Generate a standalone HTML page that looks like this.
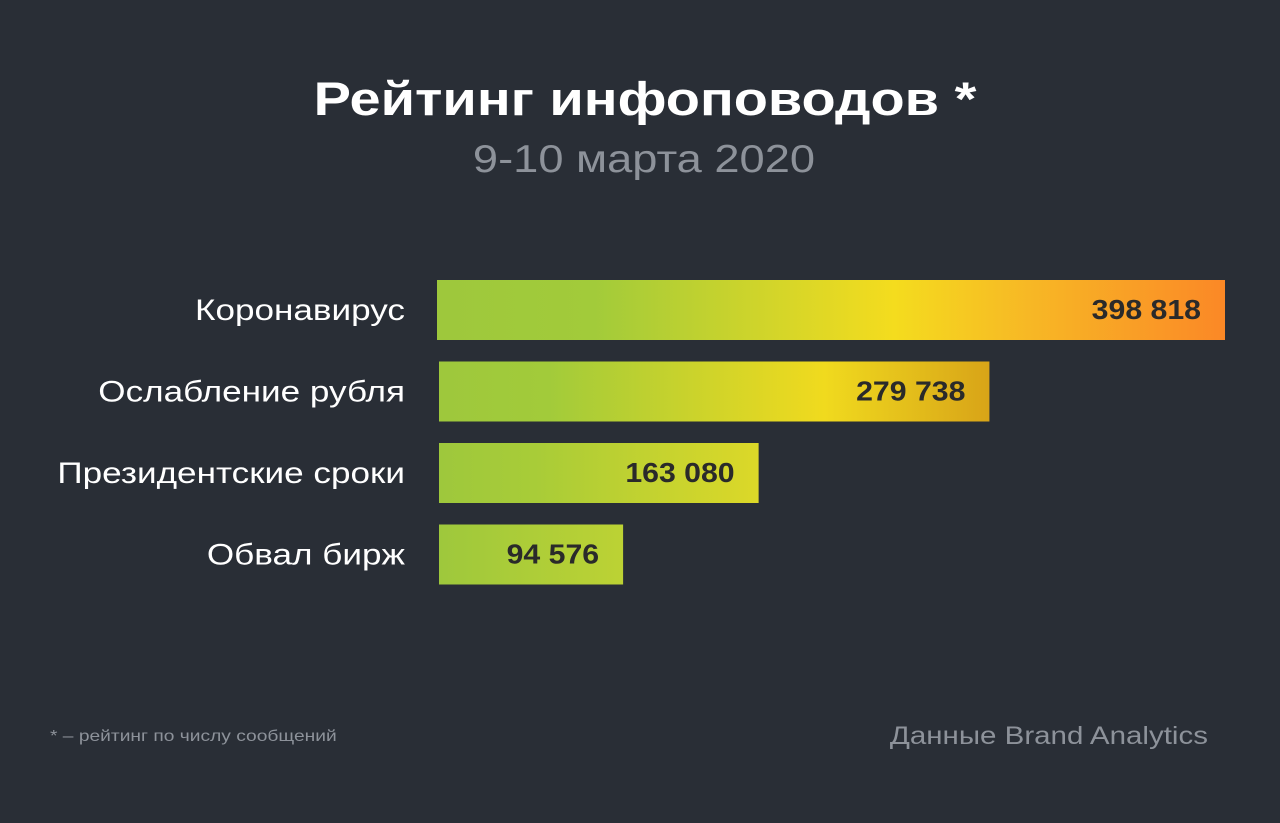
<!DOCTYPE html>
<html><head><meta charset="utf-8"><style>
html,body{margin:0;padding:0;background:#292e36;}
svg{display:block;font-family:"Liberation Sans","DejaVu Sans",sans-serif;}
</style></head><body>
<svg id="chart" width="1280" height="823" viewBox="0 0 1280 823" xmlns="http://www.w3.org/2000/svg">
<defs>
<linearGradient id="grad0" x1="0" y1="0" x2="1" y2="0">
<stop offset="0" stop-color="#9ec83c"/>
<stop offset="0.2" stop-color="#a2cb3a"/>
<stop offset="0.58" stop-color="#f4dc1e"/>
<stop offset="0.75" stop-color="#f7b825"/>
<stop offset="1" stop-color="#fb8826"/>
</linearGradient>
<linearGradient id="grad1" x1="0" y1="0" x2="1" y2="0">
<stop offset="0" stop-color="#9ec83c"/>
<stop offset="0.2" stop-color="#a2cb3a"/>
<stop offset="0.7" stop-color="#f0da1e"/>
<stop offset="1" stop-color="#d8a418"/>
</linearGradient>
<linearGradient id="grad2" x1="0" y1="0" x2="1" y2="0">
<stop offset="0" stop-color="#9ec83c"/>
<stop offset="0.3" stop-color="#a8cc38"/>
<stop offset="1" stop-color="#dcd828"/>
</linearGradient>
<linearGradient id="grad3" x1="0" y1="0" x2="1" y2="0">
<stop offset="0" stop-color="#9ec83c"/>
<stop offset="1" stop-color="#bcd234"/>
</linearGradient>
</defs>
<rect width="1280" height="823" fill="#292e36"/>
<text class="st" data-k="1.19" x="645" y="115" text-anchor="middle" fill="#ffffff" font-size="47" font-weight="bold">Рейтинг инфоповодов *</text>
<text class="st" data-k="1.16" x="644" y="172" text-anchor="middle" fill="#8d929a" font-size="39">9-10 марта 2020</text>
<g id="bars"></g>
<text class="st" data-k="1.2" x="50" y="741" fill="#8d929a" font-size="16">* – рейтинг по числу сообщений</text>
<text class="st" data-k="1.18" x="1208" y="744" text-anchor="end" fill="#8d929a" font-size="25">Данные Brand Analytics</text>
</svg>
<script>
const categories = ["Коронавирус","Ослабление рубля","Президентские сроки","Обвал бирж"];
const values = [398818, 279738, 163080, 94576];
const valueLabels = ["398 818","279 738","163 080","94 576"];
const NS = "http://www.w3.org/2000/svg";
const x0 = 436, maxW = 1225 - 436, maxV = 398818;
function xScale(v){ return x0 + v / maxV * maxW; }
function yScale(i){ return 280 + i * 81.5; }
const g = document.getElementById('bars');
categories.forEach((c, i) => {
  const y = yScale(i), xe = xScale(values[i]), xs = i === 0 ? 437 : 439;
  const r = document.createElementNS(NS, 'rect');
  r.setAttribute('x', xs); r.setAttribute('y', y);
  r.setAttribute('width', xe - xs); r.setAttribute('height', 60);
  r.setAttribute('fill', 'url(#grad' + i + ')');
  
  
  g.appendChild(r);
  const l = document.createElementNS(NS, 'text');
  l.setAttribute('x', 405); l.setAttribute('y', y + 40);
  l.setAttribute('text-anchor', 'end'); l.setAttribute('fill', '#ffffff');
  l.setAttribute('font-size', '30');
  l.setAttribute('class', 'st');
  l.setAttribute('data-k', '1.17');
  l.textContent = c;
  
  
  g.appendChild(l);
  const v = document.createElementNS(NS, 'text');
  v.setAttribute('x', xe - 24); v.setAttribute('y', y + 39);
  v.setAttribute('text-anchor', 'end'); v.setAttribute('fill', '#2a2a2a');
  v.setAttribute('font-size', '28'); v.setAttribute('font-weight', 'bold');
  v.setAttribute('class', 'st');
  v.setAttribute('data-k', '1.08');
  v.textContent = valueLabels[i];
  
  
  g.appendChild(v);
});
document.querySelectorAll('text.st').forEach(t => {
  const k = parseFloat(t.getAttribute('data-k'));
  const w = t.getComputedTextLength();
  t.setAttribute('textLength', (w * k).toFixed(1));
  t.setAttribute('lengthAdjust', 'spacingAndGlyphs');
});
</script>
</body></html>
